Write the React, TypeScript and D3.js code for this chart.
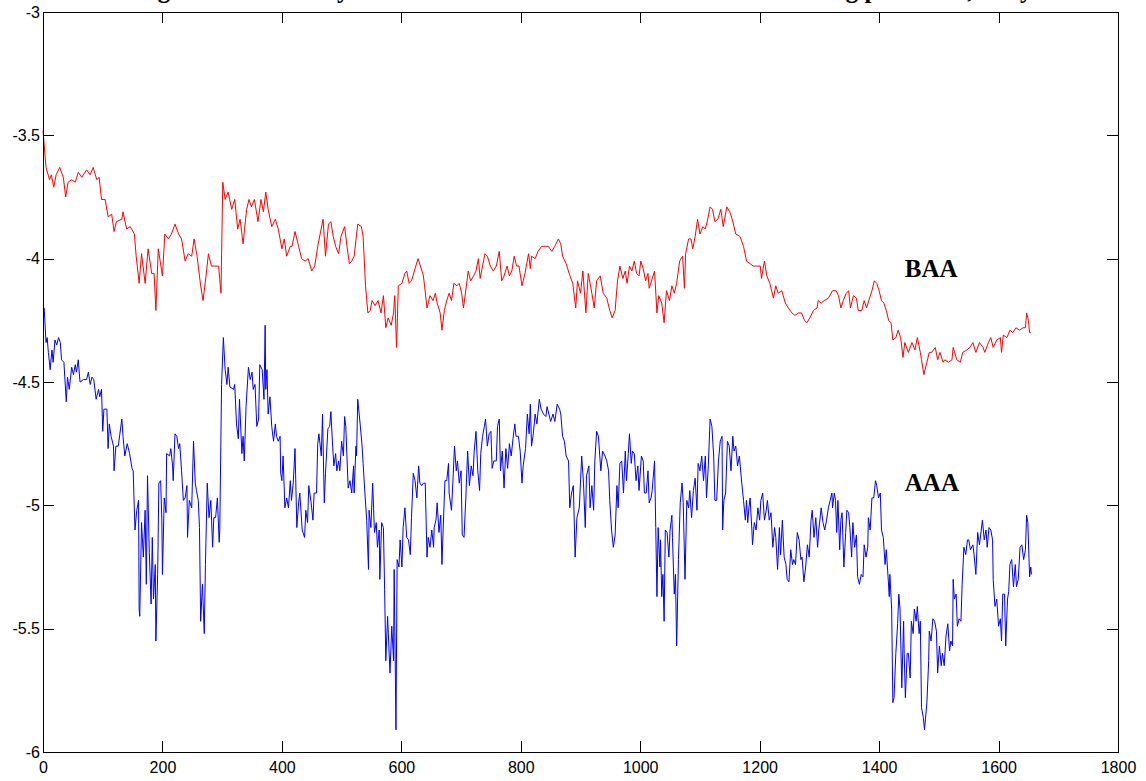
import React, { useEffect, useRef } from 'react';
import * as d3 from 'd3';

const TITLE = 'Log default intensity estimated from the AAA and BAA credit rating portfolios, daily';

const X_TICKS = [0, 200, 400, 600, 800, 1000, 1200, 1400, 1600, 1800];
const Y_TICKS = [-6, -5.5, -5, -4.5, -4, -3.5, -3];

// [day index, log intensity]
const BAA: [number, number][] = [
  [0, -3.48], [5, -3.63], [11, -3.68], [14, -3.66], [18, -3.71], [22, -3.66], [28, -3.63], [34, -3.67],
  [38, -3.75], [42, -3.69], [48, -3.68], [54, -3.69], [59, -3.65], [65, -3.67], [73, -3.64], [79, -3.66],
  [84, -3.63], [90, -3.68], [94, -3.67], [98, -3.76], [104, -3.76], [109, -3.83], [115, -3.82], [119, -3.89],
  [123, -3.85], [132, -3.84], [134, -3.81], [140, -3.88], [146, -3.87], [153, -3.9], [156, -3.99], [161, -4.1],
  [165, -3.98], [171, -4.1], [176, -3.96], [182, -4.06], [186, -4.06], [189, -4.21], [193, -3.96], [200, -4.07],
  [204, -3.9], [210, -3.92], [215, -3.9], [221, -3.86], [227, -3.9], [232, -3.92], [238, -4.01], [243, -3.98],
  [249, -3.99], [253, -3.92], [258, -3.99], [264, -4.11], [268, -4.17], [273, -4.07], [277, -3.98], [282, -4.03],
  [288, -4.03], [294, -4.03], [298, -4.14], [301, -3.69], [305, -3.76], [310, -3.73], [316, -3.8], [321, -3.76],
  [326, -3.88], [330, -3.84], [335, -3.94], [341, -3.8], [345, -3.76], [349, -3.79], [354, -3.76], [360, -3.85],
  [365, -3.76], [369, -3.81], [373, -3.73], [377, -3.8], [383, -3.87], [389, -3.84], [394, -3.88], [400, -3.96],
  [404, -3.92], [408, -3.99], [414, -3.95], [417, -3.95], [422, -3.89], [428, -3.95], [433, -4.0], [439, -4.01],
  [444, -4.0], [450, -4.05], [455, -4.03], [460, -3.95], [464, -3.9], [469, -3.84], [473, -3.99], [478, -3.86],
  [482, -3.85], [486, -3.91], [490, -3.95], [495, -3.98], [499, -3.91], [505, -3.87], [509, -3.95], [513, -4.02],
  [517, -4.01], [521, -3.99], [527, -3.86], [533, -3.87], [536, -3.91], [540, -4.11], [544, -4.22], [548, -4.21],
  [551, -4.17], [556, -4.19], [561, -4.17], [566, -4.22], [570, -4.15], [574, -4.28], [578, -4.24], [583, -4.27],
  [587, -4.22], [589, -4.15], [592, -4.36], [595, -4.11], [601, -4.1], [606, -4.06], [609, -4.05], [613, -4.1],
  [617, -4.09], [623, -4.04], [628, -4.0], [632, -4.03], [637, -4.07], [643, -4.2], [648, -4.15], [653, -4.17],
  [657, -4.14], [660, -4.18], [665, -4.22], [668, -4.29], [672, -4.21], [676, -4.17], [680, -4.14], [684, -4.17],
  [688, -4.1], [693, -4.11], [697, -4.1], [701, -4.14], [704, -4.2], [710, -4.09], [712, -4.05], [716, -4.09],
  [721, -4.07], [725, -4.05], [729, -4.0], [732, -4.08], [736, -4.03], [740, -3.98], [744, -3.99], [749, -4.03],
  [754, -4.05], [759, -4.03], [764, -3.97], [768, -4.09], [772, -4.07], [777, -4.03], [781, -4.07], [785, -4.05],
  [789, -3.99], [793, -4.03], [797, -4.03], [802, -4.11], [807, -4.06], [813, -3.98], [816, -4.04], [818, -3.99],
  [824, -4.0], [829, -3.97], [835, -3.95], [841, -3.95], [846, -3.95], [852, -3.97], [857, -3.95], [863, -3.92],
  [867, -3.94], [870, -3.99], [876, -4.02], [881, -4.06], [887, -4.1], [892, -4.2], [895, -4.09], [900, -4.14],
  [904, -4.05], [909, -4.22], [913, -4.06], [919, -4.14], [923, -4.2], [927, -4.09], [933, -4.07], [938, -4.14],
  [944, -4.16], [949, -4.21], [953, -4.24], [958, -4.21], [962, -4.09], [966, -4.03], [971, -4.08], [975, -4.05],
  [978, -4.1], [982, -4.03], [986, -4.05], [990, -4.01], [994, -4.06], [998, -4.07], [1001, -4.01], [1005, -4.04],
  [1009, -4.09], [1013, -4.06], [1015, -4.12], [1019, -4.09], [1024, -4.05], [1028, -4.22], [1031, -4.15], [1036, -4.18],
  [1040, -4.26], [1044, -4.13], [1049, -4.17], [1053, -4.11], [1057, -4.14], [1061, -4.1], [1066, -4.01], [1071, -3.99],
  [1074, -4.12], [1076, -3.98], [1081, -3.92], [1085, -3.92], [1088, -3.96], [1092, -3.91], [1096, -3.84], [1100, -3.9],
  [1105, -3.87], [1109, -3.88], [1113, -3.84], [1117, -3.79], [1121, -3.8], [1125, -3.85], [1130, -3.84], [1135, -3.8],
  [1139, -3.87], [1145, -3.79], [1150, -3.81], [1154, -3.84], [1160, -3.9], [1167, -3.91], [1173, -3.95], [1178, -4.01],
  [1184, -4.02], [1189, -4.03], [1195, -4.03], [1201, -4.03], [1203, -4.08], [1208, -4.01], [1212, -4.07], [1217, -4.1],
  [1223, -4.16], [1227, -4.11], [1231, -4.14], [1237, -4.13], [1243, -4.18], [1248, -4.2], [1254, -4.22], [1259, -4.23],
  [1265, -4.22], [1270, -4.22], [1275, -4.25], [1279, -4.26], [1284, -4.24], [1290, -4.21], [1296, -4.2], [1298, -4.17],
  [1303, -4.18], [1308, -4.17], [1315, -4.16], [1322, -4.13], [1328, -4.13], [1332, -4.15], [1336, -4.2], [1340, -4.17],
  [1345, -4.14], [1349, -4.13], [1352, -4.2], [1357, -4.15], [1362, -4.16], [1365, -4.21], [1371, -4.21], [1375, -4.17],
  [1379, -4.2], [1384, -4.16], [1388, -4.13], [1392, -4.09], [1396, -4.1], [1400, -4.13], [1404, -4.17], [1408, -4.18],
  [1412, -4.21], [1416, -4.25], [1420, -4.26], [1423, -4.33], [1428, -4.32], [1432, -4.29], [1436, -4.32], [1440, -4.4],
  [1443, -4.34], [1449, -4.38], [1455, -4.34], [1460, -4.37], [1464, -4.32], [1469, -4.38], [1471, -4.41], [1475, -4.47],
  [1480, -4.42], [1484, -4.38], [1488, -4.38], [1494, -4.36], [1498, -4.41], [1502, -4.38], [1507, -4.42], [1510, -4.41],
  [1516, -4.42], [1522, -4.41], [1524, -4.36], [1530, -4.41], [1536, -4.42], [1540, -4.38], [1547, -4.37], [1552, -4.36],
  [1557, -4.34], [1562, -4.38], [1568, -4.34], [1574, -4.36], [1577, -4.38], [1583, -4.34], [1587, -4.32], [1591, -4.36],
  [1597, -4.33], [1603, -4.32], [1605, -4.38], [1608, -4.31], [1614, -4.32], [1619, -4.29], [1624, -4.3], [1629, -4.28],
  [1635, -4.29], [1641, -4.28], [1645, -4.28], [1647, -4.22], [1650, -4.25], [1652, -4.3], [1654, -4.3],
];

const AAA: [number, number][] = [
  [0, -4.2], [2, -4.2], [5, -4.34], [7, -4.32], [9, -4.38], [12, -4.45], [15, -4.37], [17, -4.42],
  [20, -4.33], [23, -4.35], [26, -4.32], [29, -4.34], [31, -4.41], [35, -4.42], [39, -4.58], [41, -4.48],
  [44, -4.53], [48, -4.44], [51, -4.47], [54, -4.43], [56, -4.46], [59, -4.41], [62, -4.5], [68, -4.49],
  [73, -4.49], [76, -4.46], [79, -4.51], [82, -4.48], [85, -4.49], [89, -4.57], [93, -4.53], [95, -4.56],
  [98, -4.53], [100, -4.7], [102, -4.61], [107, -4.61], [109, -4.77], [111, -4.67], [114, -4.72], [118, -4.76],
  [119, -4.86], [122, -4.76], [126, -4.76], [132, -4.65], [134, -4.72], [137, -4.8], [141, -4.75], [145, -4.79],
  [149, -4.85], [151, -4.86], [154, -5.1], [157, -5.02], [160, -4.98], [161, -5.42], [162, -5.45], [165, -5.07],
  [168, -5.21], [171, -5.02], [173, -5.32], [175, -4.88], [178, -5.19], [181, -5.4], [183, -5.13], [185, -5.38],
  [188, -5.24], [189, -5.55], [192, -5.28], [194, -4.91], [197, -4.9], [199, -5.06], [200, -5.28], [203, -4.97],
  [206, -5.03], [207, -4.79], [212, -4.8], [214, -4.77], [217, -4.84], [218, -4.9], [221, -4.71], [224, -4.72],
  [227, -4.77], [229, -4.75], [232, -4.86], [235, -4.98], [238, -4.97], [241, -4.92], [242, -5.13], [245, -4.98],
  [249, -5.01], [252, -4.74], [255, -4.91], [257, -4.94], [260, -4.98], [262, -5.09], [264, -5.47], [267, -5.32],
  [270, -5.52], [272, -5.24], [275, -4.91], [278, -5.05], [281, -4.98], [284, -5.17], [286, -5.05], [289, -5.05],
  [292, -4.97], [295, -5.15], [296, -5.1], [299, -4.51], [302, -4.32], [305, -4.45], [308, -4.51], [310, -4.44],
  [313, -4.52], [319, -4.53], [321, -4.51], [324, -4.67], [327, -4.73], [329, -4.57], [333, -4.79], [335, -4.72],
  [337, -4.82], [340, -4.6], [344, -4.44], [347, -4.49], [350, -4.46], [352, -4.53], [355, -4.51], [358, -4.68],
  [361, -4.65], [363, -4.43], [367, -4.45], [370, -4.57], [372, -4.27], [373, -4.53], [375, -4.45], [377, -4.63],
  [380, -4.56], [383, -4.68], [386, -4.74], [389, -4.67], [391, -4.72], [394, -4.74], [397, -4.72], [398, -4.87],
  [400, -4.9], [402, -4.8], [405, -5.01], [408, -4.97], [411, -5.01], [414, -4.9], [416, -4.98], [419, -4.91],
  [422, -4.77], [425, -5.09], [428, -4.99], [430, -4.95], [434, -5.1], [438, -5.13], [440, -5.02], [443, -5.07],
  [445, -4.92], [449, -4.99], [452, -5.06], [454, -4.95], [458, -4.95], [460, -4.75], [462, -4.71], [466, -4.8],
  [468, -4.63], [471, -4.99], [473, -4.87], [477, -4.69], [480, -4.68], [482, -4.62], [485, -4.76], [487, -4.84],
  [490, -4.79], [492, -4.86], [495, -4.82], [497, -4.86], [500, -4.74], [503, -4.8], [505, -4.64], [507, -4.68],
  [511, -4.93], [514, -4.9], [517, -4.95], [520, -4.84], [521, -4.95], [524, -4.76], [525, -4.8], [527, -4.57],
  [531, -4.67], [534, -4.75], [536, -4.83], [539, -4.95], [542, -5.06], [545, -5.26], [546, -5.02], [549, -5.09],
  [552, -4.91], [555, -5.11], [558, -5.07], [560, -5.17], [563, -5.1], [564, -5.3], [567, -5.07], [570, -5.09],
  [572, -5.34], [574, -5.63], [577, -5.45], [581, -5.68], [584, -5.49], [587, -5.63], [588, -5.26], [591, -5.91],
  [593, -5.22], [596, -5.25], [598, -5.14], [601, -5.25], [603, -5.09], [606, -5.01], [609, -5.13], [612, -5.14],
  [615, -5.2], [617, -5.05], [620, -4.87], [623, -4.9], [626, -4.97], [629, -4.84], [631, -4.91], [634, -4.92],
  [637, -4.91], [640, -4.91], [643, -5.21], [645, -5.13], [648, -5.17], [651, -5.1], [654, -5.17], [655, -5.09],
  [658, -5.06], [660, -4.99], [663, -5.11], [666, -5.04], [668, -5.24], [670, -5.1], [673, -4.9], [676, -4.9],
  [679, -4.83], [680, -4.95], [684, -5.02], [687, -4.87], [689, -4.76], [692, -4.86], [694, -4.82], [697, -4.91],
  [700, -4.86], [702, -5.12], [705, -5.13], [708, -4.97], [711, -4.78], [714, -4.92], [717, -4.84], [720, -4.88],
  [722, -4.78], [725, -4.7], [728, -4.86], [731, -4.94], [733, -4.79], [736, -4.72], [739, -4.68], [741, -4.65],
  [744, -4.76], [747, -4.71], [750, -4.7], [752, -4.85], [755, -4.82], [759, -4.82], [761, -4.68], [764, -4.65],
  [766, -4.86], [769, -4.78], [772, -4.93], [775, -4.77], [778, -4.85], [781, -4.75], [784, -4.8], [787, -4.73],
  [790, -4.67], [792, -4.72], [796, -4.72], [799, -4.78], [802, -4.91], [804, -4.84], [808, -4.77], [811, -4.63],
  [814, -4.71], [816, -4.59], [818, -4.76], [821, -4.71], [824, -4.63], [827, -4.67], [831, -4.57], [834, -4.61],
  [838, -4.63], [842, -4.64], [844, -4.6], [847, -4.63], [850, -4.66], [854, -4.63], [857, -4.66], [861, -4.59],
  [865, -4.61], [867, -4.63], [870, -4.72], [873, -4.74], [876, -4.8], [880, -4.82], [882, -5.01], [885, -4.95],
  [888, -4.92], [891, -5.21], [894, -5.05], [898, -5.01], [902, -4.8], [905, -4.91], [908, -5.09], [910, -4.88],
  [914, -4.84], [916, -5.01], [919, -4.92], [922, -5.02], [924, -4.82], [927, -4.7], [930, -4.72], [934, -4.86],
  [937, -4.78], [941, -4.8], [944, -4.82], [947, -4.86], [949, -4.98], [952, -5.1], [955, -5.17], [958, -5.12],
  [961, -4.92], [963, -5.01], [966, -4.83], [969, -4.82], [972, -4.95], [975, -4.78], [977, -4.9], [980, -4.79],
  [982, -4.71], [985, -4.83], [987, -4.78], [990, -4.79], [993, -4.9], [996, -4.84], [998, -4.94], [1002, -4.8],
  [1005, -4.82], [1007, -4.95], [1010, -4.95], [1013, -4.86], [1015, -4.99], [1018, -4.97], [1020, -4.94], [1024, -4.82],
  [1026, -5.09], [1028, -5.37], [1030, -5.09], [1033, -5.25], [1034, -5.14], [1036, -5.37], [1038, -5.28], [1040, -5.47],
  [1042, -5.1], [1045, -5.11], [1048, -5.21], [1050, -5.1], [1053, -5.04], [1054, -5.13], [1057, -5.36], [1059, -5.28],
  [1061, -5.57], [1064, -5.22], [1067, -4.99], [1070, -4.91], [1072, -4.99], [1075, -5.3], [1078, -4.98], [1081, -5.01],
  [1083, -4.94], [1086, -5.05], [1089, -4.94], [1092, -4.89], [1095, -5.02], [1097, -4.83], [1100, -4.86], [1103, -4.8],
  [1106, -4.9], [1109, -4.8], [1111, -4.97], [1114, -4.84], [1117, -4.65], [1120, -4.68], [1123, -4.8], [1125, -4.98],
  [1128, -4.98], [1131, -4.82], [1134, -4.74], [1137, -4.72], [1138, -5.1], [1140, -4.98], [1143, -4.95], [1146, -4.74],
  [1149, -4.76], [1152, -4.86], [1155, -4.72], [1157, -4.78], [1160, -4.76], [1163, -4.84], [1166, -4.8], [1170, -4.91],
  [1173, -4.98], [1176, -5.06], [1178, -4.98], [1180, -5.07], [1182, -5.01], [1184, -4.97], [1187, -5.1], [1188, -5.16],
  [1191, -5.07], [1194, -5.1], [1197, -5.01], [1200, -5.06], [1202, -4.98], [1205, -4.95], [1208, -5.06], [1211, -5.02],
  [1213, -4.98], [1216, -5.06], [1219, -5.03], [1222, -5.17], [1225, -5.09], [1227, -5.13], [1230, -5.26], [1233, -5.09],
  [1235, -5.2], [1238, -5.06], [1241, -5.21], [1244, -5.24], [1246, -5.3], [1249, -5.31], [1252, -5.18], [1255, -5.24],
  [1257, -5.22], [1260, -5.24], [1263, -5.11], [1266, -5.14], [1269, -5.22], [1271, -5.21], [1274, -5.31], [1277, -5.25],
  [1280, -5.16], [1283, -5.21], [1286, -5.06], [1288, -5.02], [1291, -5.13], [1294, -5.05], [1297, -5.17], [1299, -5.1],
  [1303, -5.01], [1306, -5.07], [1309, -5.1], [1312, -5.06], [1315, -5.01], [1318, -4.98], [1321, -4.95], [1322, -5.01],
  [1325, -4.95], [1327, -4.98], [1329, -5.11], [1331, -4.98], [1334, -5.18], [1336, -5.06], [1338, -5.03], [1341, -5.25],
  [1344, -5.11], [1346, -5.02], [1349, -5.03], [1351, -5.09], [1354, -5.21], [1356, -5.07], [1359, -5.17], [1362, -5.12],
  [1364, -5.29], [1367, -5.32], [1370, -5.28], [1373, -5.29], [1375, -5.16], [1378, -5.21], [1381, -5.17], [1382, -5.05],
  [1385, -5.1], [1388, -4.97], [1391, -4.97], [1394, -4.9], [1396, -4.92], [1399, -4.97], [1402, -4.95], [1404, -5.1],
  [1407, -5.13], [1410, -5.24], [1412, -5.18], [1415, -5.29], [1417, -5.37], [1418, -5.28], [1421, -5.42], [1423, -5.8],
  [1425, -5.78], [1428, -5.6], [1431, -5.48], [1433, -5.36], [1435, -5.42], [1438, -5.74], [1441, -5.47], [1442, -5.6],
  [1444, -5.78], [1447, -5.6], [1449, -5.6], [1452, -5.7], [1454, -5.47], [1457, -5.52], [1459, -5.42], [1462, -5.47],
  [1464, -5.41], [1467, -5.52], [1469, -5.47], [1471, -5.82], [1474, -5.86], [1476, -5.91], [1480, -5.8], [1483, -5.63],
  [1484, -5.51], [1487, -5.55], [1490, -5.46], [1493, -5.47], [1496, -5.51], [1498, -5.68], [1501, -5.57], [1504, -5.65],
  [1506, -5.6], [1509, -5.65], [1512, -5.53], [1515, -5.48], [1518, -5.59], [1520, -5.55], [1523, -5.57], [1524, -5.3],
  [1526, -5.38], [1529, -5.36], [1531, -5.49], [1534, -5.46], [1537, -5.47], [1539, -5.32], [1542, -5.17], [1545, -5.2],
  [1548, -5.14], [1550, -5.14], [1553, -5.18], [1557, -5.16], [1559, -5.2], [1562, -5.28], [1565, -5.11], [1568, -5.16],
  [1571, -5.1], [1573, -5.06], [1576, -5.14], [1579, -5.1], [1581, -5.17], [1584, -5.09], [1587, -5.1], [1590, -5.14],
  [1591, -5.3], [1594, -5.41], [1597, -5.38], [1600, -5.49], [1603, -5.46], [1605, -5.55], [1607, -5.36], [1610, -5.36],
  [1612, -5.57], [1615, -5.38], [1617, -5.35], [1619, -5.24], [1622, -5.22], [1625, -5.33], [1628, -5.24], [1630, -5.33],
  [1633, -5.3], [1636, -5.17], [1639, -5.16], [1642, -5.22], [1645, -5.18], [1647, -5.04], [1649, -5.07], [1652, -5.29],
  [1654, -5.25], [1655, -5.28],
];

const SERIES = [
  { name: 'BAA', data: BAA, color: '#ff0000', labelAt: [1443, -4.074] },
  { name: 'AAA', data: AAA, color: '#0000ff', labelAt: [1443, -4.942] },
];

const App = () => {
  const svgRef = useRef<SVGSVGElement>(null);

  useEffect(() => {
    const width = 1146;
    const height = 781;
    const margin = { top: 12, right: 28, bottom: 29, left: 43 };

    const svg = d3.select(svgRef.current);
    svg.selectAll('*').remove();
    svg.attr('width', width).attr('height', height);

    svg.append('rect').attr('width', width).attr('height', height).attr('fill', 'white');

    const x = d3.scaleLinear().domain([0, 1800]).range([margin.left, width - margin.right]);
    const y = d3.scaleLinear().domain([-6, -3]).range([height - margin.bottom, margin.top]);

    const line = d3.line<[number, number]>()
      .x(d => x(d[0]))
      .y(d => y(d[1]));

    SERIES.forEach(s => {
      svg.append('path')
        .datum(s.data)
        .attr('fill', 'none')
        .attr('stroke', s.color)
        .attr('stroke-width', 1)
        .attr('stroke-linejoin', 'round')
        .attr('d', line);

      svg.append('text')
        .attr('x', x(s.labelAt[0]))
        .attr('y', y(s.labelAt[1]))
        .attr('font-family', '"Liberation Serif", "Times New Roman", serif')
        .attr('font-weight', 'bold')
        .attr('font-size', 25)
        .text(s.name);
    });

    const font = '"Liberation Sans", Arial, Helvetica, sans-serif';
    const fmt = (d: d3.NumberValue) => String(d);

    const bottom = svg.append('g')
      .attr('transform', `translate(0,${y(-6)})`)
      .call(d3.axisBottom(x).tickValues(X_TICKS).tickSize(-11).tickPadding(10).tickFormat(fmt));
    const top = svg.append('g')
      .attr('transform', `translate(0,${y(-3)})`)
      .call(d3.axisTop(x).tickValues(X_TICKS).tickSize(-11).tickFormat(() => ''));
    const left = svg.append('g')
      .attr('transform', `translate(${x(0)},0)`)
      .call(d3.axisLeft(y).tickValues(Y_TICKS).tickSize(-11).tickPadding(3).tickFormat(fmt));
    const right = svg.append('g')
      .attr('transform', `translate(${x(1800)},0)`)
      .call(d3.axisRight(y).tickValues(Y_TICKS).tickSize(-11).tickFormat(() => ''));

    [bottom, top, left, right].forEach(a => {
      a.select('.domain').remove();
      a.selectAll('line').attr('stroke', '#000').attr('shape-rendering', 'crispEdges');
      a.selectAll('text').attr('fill', '#000').attr('font-family', font).attr('font-size', 16);
    });

    // axes box
    svg.append('rect')
      .attr('x', x(0))
      .attr('y', y(-3))
      .attr('width', x(1800) - x(0))
      .attr('height', y(-6) - y(-3))
      .attr('fill', 'none')
      .attr('stroke', '#000')
      .attr('stroke-width', 1)
      .attr('shape-rendering', 'crispEdges');

    // title sits above the picture, only its descenders show
    svg.append('text')
      .attr('x', (x(0) + x(1800)) / 2)
      .attr('y', -2)
      .attr('text-anchor', 'middle')
      .attr('font-family', '"Liberation Serif", "Times New Roman", serif')
      .attr('font-weight', 'bold')
      .attr('font-size', 25)
      .text(TITLE);
  }, []);

  return (
    <div style={{ position: 'absolute', left: 0, top: 0 }}>
      <svg ref={svgRef} style={{ display: 'block' }}></svg>
    </div>
  );
};

export default App;
